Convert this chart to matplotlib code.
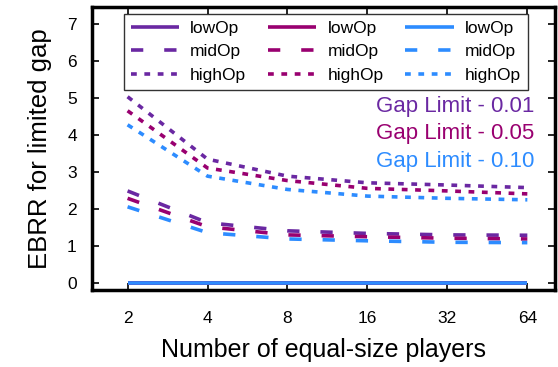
import matplotlib
matplotlib.use('Agg')
import matplotlib.pyplot as plt
import numpy as np

plt.rcParams['font.family'] = ['Liberation Sans', 'DejaVu Sans']

players = [2, 4, 8, 16, 32, 64]
gap_labels = ['Gap Limit - 0.01', 'Gap Limit - 0.05', 'Gap Limit - 0.10']
colors = ['#6a28a2', '#990070', '#2d8cff']

low_001 = [0.0, 0.0, 0.0, 0.0, 0.0, 0.0]
mid_001 = [2.48, 1.62, 1.40, 1.33, 1.29, 1.28]
high_001 = [5.03, 3.34, 2.88, 2.70, 2.64, 2.57]

low_005 = [0.0, 0.0, 0.0, 0.0, 0.0, 0.0]
mid_005 = [2.28, 1.51, 1.29, 1.24, 1.20, 1.18]
high_005 = [4.65, 3.10, 2.76, 2.55, 2.48, 2.40]

low_010 = [0.0, 0.0, 0.0, 0.0, 0.0, 0.0]
mid_010 = [2.05, 1.35, 1.18, 1.13, 1.09, 1.08]
high_010 = [4.27, 2.88, 2.52, 2.34, 2.28, 2.24]

series = [
    (low_001, mid_001, high_001),
    (low_005, mid_005, high_005),
    (low_010, mid_010, high_010),
]

fig = plt.figure(figsize=(5.58, 3.67), dpi=100)
ax = fig.add_axes([0.165, 0.21, 0.83, 0.77])

xs = np.log2(players)
for (low, mid, high), c in zip(series, colors):
    ax.plot(xs, low, color=c, lw=2.6, solid_capstyle='butt', label='lowOp')
    ax.plot(xs, mid, color=c, lw=2.6, dashes=(3.4, 5.8), label='midOp')
    ax.plot(xs, high, color=c, lw=2.6, dashes=(1.6, 2.1), label='highOp')

ax.set_xlim(np.log2(1.47), np.log2(81.5))
ax.set_ylim(-0.2, 7.45)
ax.set_xticks(xs)
ax.set_xticklabels([str(p) for p in players])
ax.set_yticks(range(8))

ax.tick_params(direction='in', top=True, right=True, length=5, width=1.2,
               labelsize=12.5)
ax.tick_params(axis='x', pad=15)
ax.tick_params(axis='y', pad=11)
for s in ax.spines.values():
    s.set_linewidth(2.5)

ax.set_xlabel('Number of equal-size players', fontsize=18, labelpad=9)
ax.set_ylabel('EBRR for limited gap', fontsize=18.5, labelpad=11)

leg = ax.legend(ncol=3, loc='upper left', bbox_to_anchor=(0.068, 0.978),
                fontsize=12.5, frameon=True, fancybox=False, edgecolor='black',
                handlelength=2.8, columnspacing=1.25, labelspacing=0.5,
                borderpad=0.4, handletextpad=0.63, borderaxespad=0)
leg.get_frame().set_linewidth(1.0)

for i, (lbl, c) in enumerate(zip(gap_labels, colors)):
    ax.text(0.955, 0.649 - i * 0.097, lbl, color=c, fontsize=16,
            ha='right', va='center', transform=ax.transAxes)

fig.savefig('out.png', dpi=100)
